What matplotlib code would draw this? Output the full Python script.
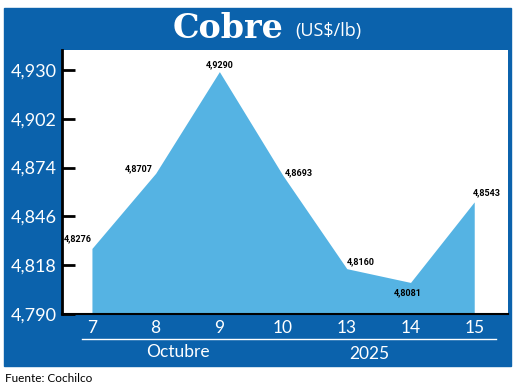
import matplotlib.pyplot as plt
import matplotlib.patches as mpatches
import numpy as np

days = ['7', '8', '9', '10', '13', '14', '15']
prices = [4.8276, 4.8707, 4.9290, 4.8693, 4.8160, 4.8081, 4.8543]
yticks = [4.790, 4.818, 4.846, 4.874, 4.902, 4.930]

BLUE = '#0b62ac'
FILL = '#55b3e3'
narrow = ['Lato', 'DejaVu Sans']

W, H = 520, 388
fig = plt.figure(figsize=(W / 100, H / 100), dpi=100)
fig.patch.set_facecolor('white')

# blue frame behind everything
fig.patches.append(mpatches.Rectangle((4 / W, 1 - 366 / H), 507 / W, 358 / H,
                                      transform=fig.transFigure, color=BLUE, zorder=-5))

ax = fig.add_axes([62 / W, 1 - 314 / H, 446 / W, 264 / H])
ax.set_zorder(2)
ax.set_facecolor('white')

x = np.arange(len(days))
ax.fill_between(x, 4.790, prices, color=FILL, lw=0, zorder=2)

ax.set_xlim(-0.47, 6.53)
ax.set_ylim(4.7915, 4.9414)

ax.set_yticks(yticks)
ax.set_yticklabels([f'{v:.3f}'.replace('.', ',') for v in yticks],
                   color='white', fontsize=13, family=narrow)
ax.set_xticks(x)
ax.set_xticklabels(days, color='white', fontsize=12.5, family=narrow)
ax.tick_params(axis='y', direction='in', length=9, width=2, color='black', pad=4)
ax.tick_params(axis='x', length=0, pad=4)

for s in ['top', 'right']:
    ax.spines[s].set_visible(False)
ax.spines['left'].set_linewidth(2)
ax.spines['bottom'].set_linewidth(1.5)

# data labels (offsets in points)
offsets = [(0, 7, 'right', 'center'), (-2, 3, 'right', 'center'), (0, 2, 'center', 'bottom'),
           (1, 2, 'left', 'center'), (0, 5, 'left', 'center'), (-2, -4, 'center', 'top'),
           (-1, 3, 'left', 'bottom')]
for xi, p, (dx, dy, ha, va) in zip(x, prices, offsets):
    ax.annotate(f'{p:.4f}'.replace('.', ','), (xi, p), xytext=(dx, dy),
                textcoords='offset points', ha=ha, va=va, fontsize=6.5,
                fontweight='bold', family='Roboto', color='black', zorder=5)

# title
fig.text(283 / W, 1 - 28 / H, 'Cobre', ha='right', va='center', color='white',
         fontsize=24, fontweight='bold', family='DejaVu Serif')
fig.text(295 / W, 1 - 31 / H, '(US$/lb)', ha='left', va='center', color='white',
         fontsize=13, family='Open Sans')

# bottom band
fig.lines.append(plt.Line2D([82 / W, 496 / W], [1 - 339 / H] * 2,
                            transform=fig.transFigure, color='white', lw=1))
fig.text(178 / W, 1 - 352 / H, 'Octubre', ha='center', va='center', color='white',
         fontsize=12.5, family=narrow)
fig.text(369 / W, 1 - 354 / H, '2025', ha='center', va='center', color='white',
         fontsize=12.5, family=narrow)

fig.text(5 / W, 1 - 378 / H, 'Fuente: Cochilco', ha='left', va='center', color='black',
         fontsize=8.5, family=narrow)

fig.savefig('out.png', dpi=100)
